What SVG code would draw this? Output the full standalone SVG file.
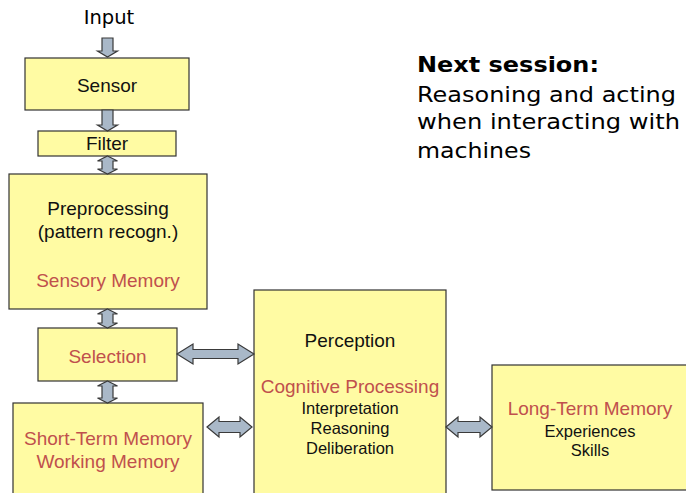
<svg xmlns="http://www.w3.org/2000/svg" width="686" height="493" viewBox="0 0 686 493">
  <style>
    .box { fill: #FFFBA3; stroke: #333333; stroke-width: 1.2; }
    .t { font-family: "Liberation Sans", Arial, sans-serif; font-size: 19px; fill: #111; text-anchor: middle; }
    .r { fill: #C0504D; }
    .s { font-family: "Liberation Sans", Arial, sans-serif; font-size: 16.5px; fill: #111; text-anchor: middle; }
    .arr { fill: #A9B8C8; stroke: #3a3a3a; stroke-width: 1.2; stroke-linejoin: miter; }
    .v { font-family: "DejaVu Sans", Verdana, sans-serif; fill: #000; }
  </style>
  <rect width="686" height="493" fill="#ffffff"/>

  <!-- heading on the right -->
  <g id="note" class="v">
    <text x="417" y="72" font-size="22" font-weight="bold" textLength="182" lengthAdjust="spacingAndGlyphs">Next session:</text>
    <text x="417" y="102" font-size="22" textLength="259" lengthAdjust="spacingAndGlyphs">Reasoning and acting</text>
    <text x="417" y="129" font-size="22" textLength="263" lengthAdjust="spacingAndGlyphs">when interacting with</text>
    <text x="417" y="158" font-size="22" textLength="114" lengthAdjust="spacingAndGlyphs">machines</text>
  </g>

  <g id="input">
    <text x="109" y="24" class="v" font-size="19.5" text-anchor="middle" fill="#222">Input</text>
  </g>

  <g id="sensor">
    <rect class="box" x="25" y="58" width="164" height="52"/>
    <text class="t" x="107" y="92">Sensor</text>
  </g>

  <g id="filter">
    <rect class="box" x="38" y="131" width="138" height="25"/>
    <text class="t" x="107" y="150">Filter</text>
  </g>

  <g id="preprocessing">
    <rect class="box" x="9" y="174" width="198" height="135"/>
    <text class="t" x="108" y="215">Preprocessing</text>
    <text class="t" x="108" y="238">(pattern recogn.)</text>
    <text class="t r" x="108" y="287">Sensory Memory</text>
  </g>

  <g id="selection">
    <rect class="box" x="38" y="328" width="139" height="53"/>
    <text class="t r" x="107.5" y="363">Selection</text>
  </g>

  <g id="short-term-memory">
    <rect class="box" x="13" y="403" width="190" height="100"/>
    <text class="t r" x="108" y="445">Short-Term Memory</text>
    <text class="t r" x="108" y="468">Working Memory</text>
  </g>

  <g id="perception">
    <rect class="box" x="254" y="290" width="192" height="213"/>
    <text class="t" x="350" y="347">Perception</text>
    <text class="t r" x="350" y="393">Cognitive Processing</text>
    <text class="s" x="350" y="414">Interpretation</text>
    <text class="s" x="350" y="434">Reasoning</text>
    <text class="s" x="350" y="454">Deliberation</text>
  </g>

  <g id="long-term-memory">
    <rect class="box" x="492" y="365" width="210" height="125"/>
    <text class="t r" x="590" y="415">Long-Term Memory</text>
    <text class="s" x="590" y="437">Experiences</text>
    <text class="s" x="590" y="456">Skills</text>
  </g>

  <!-- block arrows between the stages -->
  <g id="connectors">
    <polygon class="arr" points="102,38 113,38 113,51 117.5,51 107.5,57 97.5,51 102,51"/>
    <polygon class="arr" points="102,110 113,110 113,125 117.5,125 107.5,131 97.5,125 102,125"/>
    <polygon class="arr" points="107.5,156 117.5,161 113,161 113,169 117.5,169 107.5,174 97.5,169 102,169 102,161 97.5,161"/>
    <polygon class="arr" points="107.5,309 117.5,314 113,314 113,323 117.5,323 107.5,328 97.5,323 102,323 102,314 97.5,314"/>
    <polygon class="arr" points="107.5,381 117.5,386 113,386 113,398 117.5,398 107.5,403 97.5,398 102,398 102,386 97.5,386"/>
    <polygon class="arr" points="177,354 193,344 193,349.5 238,349.5 238,344 254,354 238,364 238,358.5 193,358.5 193,364"/>
    <polygon class="arr" points="207,427 219,417 219,421.5 240,421.5 240,417 252,427 240,437 240,432.5 219,432.5 219,437"/>
    <polygon class="arr" points="446,427 458,417 458,421.5 480,421.5 480,417 492,427 480,437 480,432.5 458,432.5 458,437"/>
  </g>
</svg>
